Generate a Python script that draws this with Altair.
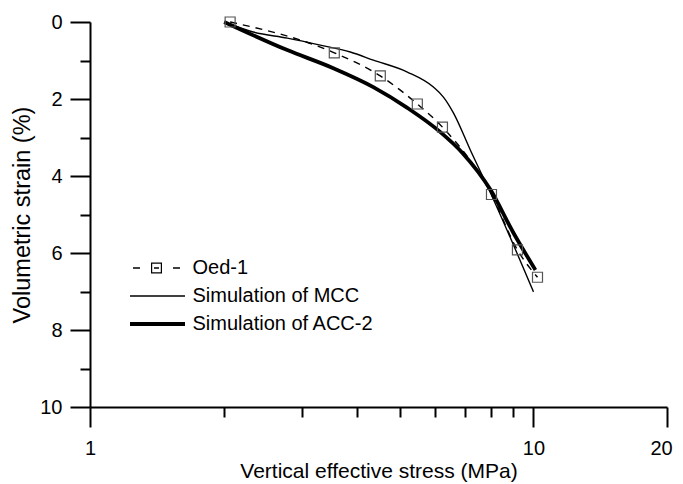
import altair as alt
import pandas as pd

# ---- data ----
oed_x = [2.07, 3.555, 4.514, 5.471, 6.233, 8.04, 9.20, 10.21]
oed_y = [0.0, 0.80, 1.40, 2.13, 2.73, 4.48, 5.92, 6.63]

mcc_x = [2.007, 2.333, 2.785, 3.305, 3.863, 4.353, 5.195, 5.947, 6.265, 6.598, 7.207, 8.0, 10.0]
mcc_y = [0.0, 0.26, 0.42, 0.60, 0.78, 0.99, 1.30, 1.69, 1.95, 2.36, 3.33, 4.44, 7.01]

acc_x = [2.007, 2.785, 3.537, 4.353, 5.195, 6.167, 6.915, 8.0, 9.014, 10.10]
acc_y = [0.0, 0.73, 1.20, 1.69, 2.23, 2.86, 3.40, 4.36, 5.48, 6.44]

series_names = ["Oed-1", "Simulation of MCC", "Simulation of ACC-2"]

x_major_ticks = [1, 10, 20]
x_minor_ticks = [2, 3, 4, 5, 6, 7, 8, 9]
y_major_ticks = [0, 2, 4, 6, 8, 10]
y_minor_ticks = [1, 3, 5, 7, 9]

FONT = "Liberation Sans"

oed_df = pd.DataFrame({"x": oed_x, "y": oed_y})
mcc_df = pd.DataFrame({"x": mcc_x, "y": mcc_y})
acc_df = pd.DataFrame({"x": acc_x, "y": acc_y})
leg_df = pd.DataFrame({"series": series_names})

xs = alt.Scale(type="log", domain=[1, 20], nice=False)
ys = alt.Scale(domain=[0, 10], reverse=True, nice=False)

x_major = alt.Axis(orient="bottom", values=x_major_ticks, tickSize=20, format="d",
                   labelPadding=11, labelFlush=False, grid=False,
                   labelOffset={"condition": {"test": "datum.value >= 20", "value": -6},
                                "value": 0},
                   title="Vertical effective stress (MPa)", titlePadding=2,
                   titleFontSize=21)
x_minor = alt.Axis(orient="bottom", values=x_minor_ticks, tickSize=10, labels=False,
                   domain=False, grid=False, title="")
y_major = alt.Axis(orient="left", values=y_major_ticks, tickSize=20, format="d",
                   labelPadding=8, grid=False, title="Volumetric strain (%)",
                   titlePadding=5, titleFontSize=23.5)
y_minor = alt.Axis(orient="left", values=y_minor_ticks, tickSize=10, labels=False,
                   domain=False, grid=False, title="")

mcc_line = alt.Chart(mcc_df).mark_line(color="black", strokeWidth=1.4,
                                       interpolate="monotone").encode(
    x=alt.X("x:Q", scale=xs, axis=x_major),
    y=alt.Y("y:Q", scale=ys, axis=y_major),
)
acc_line = alt.Chart(acc_df).mark_line(color="black", strokeWidth=3.8,
                                       interpolate="monotone").encode(
    x=alt.X("x:Q", scale=xs, axis=x_minor),
    y=alt.Y("y:Q", scale=ys, axis=y_minor),
)
oed_line = alt.Chart(oed_df).mark_line(color="black", strokeWidth=1.4,
                                       strokeDash=[7, 6],
                                       interpolate="monotone").encode(
    x=alt.X("x:Q", scale=xs, axis=None),
    y=alt.Y("y:Q", scale=ys, axis=None),
)
oed_pts = alt.Chart(oed_df).mark_point(shape="square", filled=False, size=100,
                                       stroke="#555555", strokeWidth=1.2,
                                       opacity=1).encode(
    x=alt.X("x:Q", scale=xs, axis=None),
    y=alt.Y("y:Q", scale=ys, axis=None),
)

oed_sym = ("M-0.7,-0.075H0V0.075H-0.7Z"
           "M1.1,-0.55H2.2V0.55H1.1ZM1.22,-0.43V0.43H2.08V-0.43Z"
           "M1.4,-0.075H1.9V0.075H1.4Z"
           "M3.3,-0.075H4.0V0.075H3.3Z")
mcc_sym = "M-1,-0.07H4.5V0.07H-1Z"
acc_sym = "M-1,-0.19H4.5V0.19H-1Z"

legend_layer = alt.Chart(leg_df).transform_filter("false").mark_point(
    filled=True, color="black", size=400, opacity=1
).encode(
    shape=alt.Shape(
        "series:N",
        scale=alt.Scale(domain=series_names, range=[oed_sym, mcc_sym, acc_sym]),
        legend=alt.Legend(orient="none", legendX=40, legendY=236, title=None,
                          symbolSize=400, symbolStrokeWidth=0,
                          symbolFillColor="black", labelOffset=42.5,
                          labelFont=FONT, labelFontSize=20, labelColor="black",
                          rowPadding=8, padding=0, labelLimit=400),
    )
)

chart = alt.layer(mcc_line, acc_line, oed_line, oed_pts, legend_layer).resolve_axis(
    x="independent", y="independent"
).properties(
    width=577, height=385,
    autosize="none",
    padding={"left": 82, "top": 14, "right": 8, "bottom": 77},
).configure_view(strokeWidth=0).configure_axis(
    labelFont=FONT, labelFontSize=20, labelColor="black",
    titleFont=FONT, titleColor="black", titleFontWeight="normal",
    domainColor="black", tickColor="black", domainWidth=2, tickWidth=2,
)

chart.save("out.html", embed_options={"renderer": "svg", "actions": False})
